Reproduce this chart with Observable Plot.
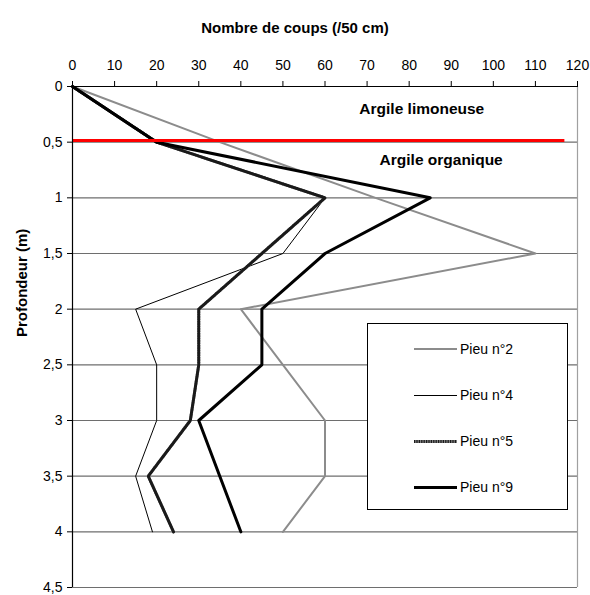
<!DOCTYPE html>
<html><head><meta charset="utf-8">
<script src="https://cdn.jsdelivr.net/npm/d3@7"></script>
<script src="https://cdn.jsdelivr.net/npm/@observablehq/plot@0.6"></script>
<style>
body{margin:0;background:#fff;font-family:"Liberation Sans",Arial,sans-serif;}
#wrap{position:relative;width:590px;height:595px;}
#legend{position:absolute;left:367px;top:323px;}
</style></head><body><div id="wrap"></div>
<script>
// ---- data ----
const depths = [0, 0.5, 1, 1.5, 2, 2.5, 3, 3.5, 4];
const pieu2 = [0, 35, 72, 110, 40, 50, 60, 60, 50];
const pieu4 = [0, 20, 60, 50, 15, 20, 20, 15, 19];
const pieu5 = [0, 20, 60, 45, 30, 30, 28, 18, 24];
const pieu9 = [0, 20, 85, 60, 45, 45, 30, 35, 40];
const seriesNames = ["Pieu n°2", "Pieu n°4", "Pieu n°5", "Pieu n°9"];
const xTicks = [0, 10, 20, 30, 40, 50, 60, 70, 80, 90, 100, 110, 120];
const yTicks = [0, 0.5, 1, 1.5, 2, 2.5, 3, 3.5, 4, 4.5];
const layerNames = ["Argile limoneuse", "Argile organique"];
const boundaryDepth = [0.485];
const xTitle = "Nombre de coups (/50 cm)";
const yTitle = "Profondeur (m)";

const rows = (vals) => depths.map((d, i) => ({d, v: vals[i]}));
const fmt = d => String(d).replace(".", ",");

const plot = Plot.plot({
  width: 590, height: 595,
  marginLeft: 72, marginRight: 13, marginTop: 86, marginBottom: 8,
  style: {fontFamily: "'Liberation Sans', Arial, sans-serif", fontSize: "13px", color: "#000", background: "#fff"},
  x: {domain: [0, 120]},
  y: {domain: [0, 4.5], reverse: true},
  marks: [
    Plot.ruleY(yTicks.filter(d => d > 0), {stroke: "#6e6e6e", strokeWidth: 1.2}),
    Plot.ruleX([120], {stroke: "#a0a0a0", strokeWidth: 1.2}),
    Plot.line(rows(pieu2), {x: "v", y: "d", stroke: "#8c8c8c", strokeWidth: 2}),
    Plot.line(rows(pieu4), {x: "v", y: "d", stroke: "#000", strokeWidth: 1}),
    Plot.line(rows(pieu5), {x: "v", y: "d", stroke: "#808080", strokeWidth: 3}),
    Plot.line(rows(pieu5), {x: "v", y: "d", stroke: "#1a1a1a", strokeWidth: 3, strokeDasharray: "1.2,1.2"}),
    Plot.line(rows(pieu9), {x: "v", y: "d", stroke: "#000", strokeWidth: 3}),
    Plot.ruleY(boundaryDepth, {x1: 0, x2: 117, stroke: "#ff0000", strokeWidth: 3}),
    Plot.ruleY([0], {stroke: "#000", strokeWidth: 1.2}),
    Plot.ruleX([0], {stroke: "#000", strokeWidth: 1.2}),
    Plot.axisX({anchor: "top", ticks: xTicks, tickSize: 6, tickPadding: 11, fontSize: 14, label: null}),
    Plot.axisY({anchor: "left", ticks: yTicks, tickSize: 5, tickPadding: 5, tickFormat: fmt, fontSize: 14, label: null}),
    Plot.text([layerNames[0]], {x: 83, y: 0.2, fontWeight: "bold", fontSize: 15.5}),
    Plot.text([layerNames[1]], {x: 87.6, y: 0.66, fontWeight: "bold", fontSize: 15.5}),
    Plot.text([xTitle], {frameAnchor: "top", dx: -30, dy: -64, fontWeight: "bold", fontSize: 15}),
    Plot.text([yTitle], {frameAnchor: "left", dx: -50, rotate: -90, fontWeight: "bold", fontSize: 15})
  ]
});
document.getElementById("wrap").appendChild(plot);

// ---- legend ----
const lg = d3.select("#wrap").append("svg").attr("id", "legend")
  .attr("width", 201).attr("height", 187);
lg.append("rect").attr("x", 0.5).attr("y", 0.5).attr("width", 200).attr("height", 186)
  .attr("fill", "#fff").attr("stroke", "#000");
const rowY = [26, 72, 118, 164];
const styles = [
  [{stroke: "#8c8c8c", w: 2, dash: null, off: 0}],
  [{stroke: "#000", w: 1, dash: null, off: 0.5}],
  [{stroke: "#808080", w: 3, dash: null, off: 0.5}, {stroke: "#1a1a1a", w: 3, dash: "1.2,1.2", off: 0.5}],
  [{stroke: "#000", w: 3, dash: null, off: 0.5}]
];
seriesNames.forEach((name, i) => {
  styles[i].forEach(s => {
    const l = lg.append("line").attr("x1", 47).attr("x2", 90)
      .attr("y1", rowY[i] + s.off).attr("y2", rowY[i] + s.off)
      .attr("stroke", s.stroke).attr("stroke-width", s.w);
    if (s.dash) l.attr("stroke-dasharray", s.dash);
  });
  lg.append("text").attr("x", 93).attr("y", rowY[i]).attr("dy", "0.35em")
    .attr("font-family", "'Liberation Sans', Arial, sans-serif").attr("font-size", 14)
    .text(name);
});
</script>
</body></html>
